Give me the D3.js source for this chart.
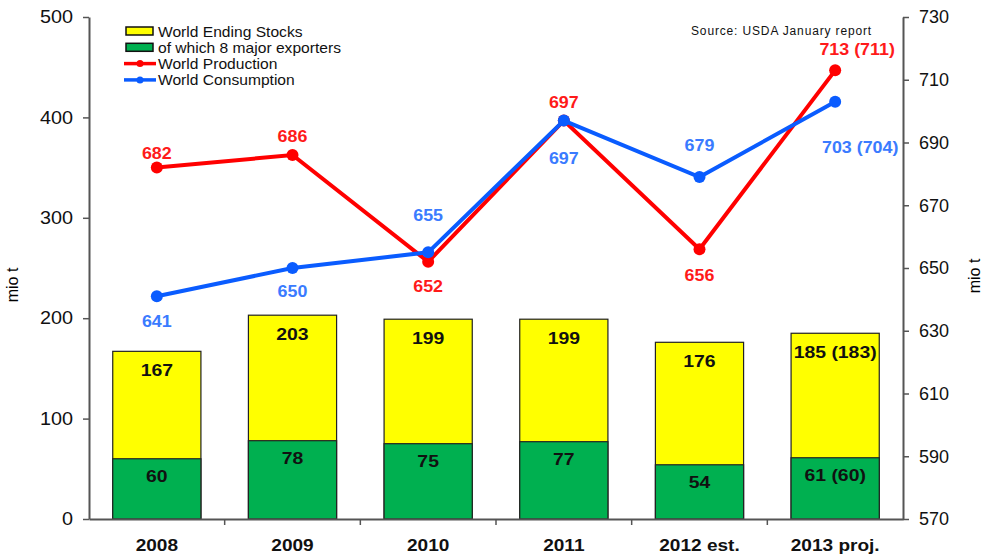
<!DOCTYPE html>
<html>
<head>
<meta charset="utf-8">
<script src="https://cdn.jsdelivr.net/npm/d3@7"></script>
<style>
  body { margin: 0; background: #fff; }
  text { font-family: "Liberation Sans", Arial, sans-serif; }
</style>
</head>
<body>
<div class="chart"></div>
<script>
// data
const years = ['2008', '2009', '2010', '2011', '2012 est.', '2013 proj.'];
const stocks = [167, 203, 199, 199, 176, 185];
const exporters = [60, 78, 75, 77, 54, 61];
const stockLabels = ['167', '203', '199', '199', '176', '185 (183)'];
const exporterLabels = ['60', '78', '75', '77', '54', '61 (60)'];
const production = [682, 686, 652, 697, 656, 713];
const consumption = [641, 650, 655, 697, 679, 703];
const prodLabels = ['682', '686', '652', '697', '656', '713 (711)'];
const consLabels = ['641', '650', '655', '697', '679', '703 (704)'];
const leftTicks = [0, 100, 200, 300, 400, 500];
const rightTicks = [570, 590, 610, 630, 650, 670, 690, 710, 730];

// label offsets (dx, dy from the point)
const prodOff = [[0,-9],[0,-13],[0,30],[0,-13],[0,32],[22,-15]];
const consOff = [[0,31],[0,29],[0,-31],[0,43],[0,-26],[25,51]];

const W = 983, H = 554;
const margin = {top:17, left:89, bottom:35, right:80};
const width = W - margin.left - margin.right;
const height = H - margin.top - margin.bottom;

// widen text a little, the original is horizontally stretched
const stretch = (sel, k) => sel.each(function() {
  const l = this.getComputedTextLength();
  d3.select(this).attr('textLength', l*k).attr('lengthAdjust', 'spacingAndGlyphs');
});

const svg = d3.select('.chart').append('svg')
  .attr('width', W)
  .attr('height', H)
  .append('g')
  .attr('transform', 'translate('+margin.left+','+margin.top+')');

const x = d3.scaleBand().domain(years).range([0, width]).paddingInner(0.35).paddingOuter(0.175);
const xc = d => x(d) + x.bandwidth()/2;
const yL = d3.scaleLinear().domain([0, 500]).range([height, 0]);
const yR = d3.scaleLinear().domain([570, 730]).range([height, 0]);

// bars
svg.selectAll('.stock')
  .data(years)
  .enter()
  .append('rect')
  .attr('x', d => x(d))
  .attr('width', x.bandwidth())
  .attr('y', (d,i) => yL(stocks[i]))
  .attr('height', (d,i) => yL(0) - yL(stocks[i]))
  .attr('fill', '#ffff00')
  .attr('stroke', '#222')
  .attr('stroke-width', 1.2);

svg.selectAll('.exp')
  .data(years)
  .enter()
  .append('rect')
  .attr('x', d => x(d))
  .attr('width', x.bandwidth())
  .attr('y', (d,i) => yL(exporters[i]))
  .attr('height', (d,i) => yL(0) - yL(exporters[i]))
  .attr('fill', '#00b050')
  .attr('stroke', '#222')
  .attr('stroke-width', 1.2);

svg.selectAll('.stockLbl')
  .data(years)
  .enter()
  .append('text')
  .attr('x', d => xc(d))
  .attr('y', (d,i) => yL(stocks[i]) + 25)
  .attr('text-anchor', 'middle')
  .attr('font-size', 17)
  .attr('font-weight', 'bold')
  .attr('fill', '#111')
  .text((d,i) => stockLabels[i])
  .call(stretch, 1.14);

svg.selectAll('.expLbl')
  .data(years)
  .enter()
  .append('text')
  .attr('x', d => xc(d))
  .attr('y', (d,i) => yL(exporters[i]) + 23)
  .attr('text-anchor', 'middle')
  .attr('font-size', 17)
  .attr('font-weight', 'bold')
  .attr('fill', '#111')
  .text((d,i) => exporterLabels[i])
  .call(stretch, 1.14);

// axes
const axisColor = '#555';
const styleAxis = g => {
  g.selectAll('path').attr('stroke', axisColor).attr('stroke-width', 2);
  g.selectAll('line').attr('stroke', axisColor).attr('stroke-width', 1.5);
  g.selectAll('text').attr('font-size', 18).attr('fill', '#111');
};

svg.append('g')
  .call(d3.axisLeft(yL).tickValues(leftTicks).tickSize(6).tickSizeOuter(0).tickPadding(10))
  .call(styleAxis)
  .selectAll('text').call(stretch, 1.1);

svg.append('g')
  .attr('transform', `translate(${width},0)`)
  .call(d3.axisRight(yR).tickValues(rightTicks).tickSize(6).tickSizeOuter(0).tickPadding(10))
  .call(styleAxis);

const xAxis = svg.append('g')
  .attr('transform', `translate(0,${height})`)
  .call(d3.axisBottom(x).tickSize(0).tickPadding(20))
  .call(styleAxis);
xAxis.selectAll('text').attr('font-size', 17).attr('font-weight', 'bold').call(stretch, 1.12);

// category separator ticks
svg.selectAll('.sep')
  .data(years.slice(1))
  .enter()
  .append('line')
  .attr('x1', d => x(d) - x.step()*x.paddingInner()/2)
  .attr('x2', d => x(d) - x.step()*x.paddingInner()/2)
  .attr('y1', height)
  .attr('y2', height + 6)
  .attr('stroke', axisColor)
  .attr('stroke-width', 1.5);

// lines
const drawLine = (vals, color, labels, off, lblColor) => {
  const line = d3.line().x((d,i) => xc(years[i])).y(d => yR(d));
  svg.append('path')
    .datum(vals)
    .attr('d', line)
    .attr('fill', 'none')
    .attr('stroke', color)
    .attr('stroke-width', 4);
  svg.selectAll(null)
    .data(vals)
    .enter()
    .append('circle')
    .attr('cx', (d,i) => xc(years[i]))
    .attr('cy', d => yR(d))
    .attr('r', 6)
    .attr('fill', color);
  svg.selectAll(null)
    .data(vals)
    .enter()
    .append('text')
    .attr('x', (d,i) => xc(years[i]) + off[i][0])
    .attr('y', (d,i) => yR(d) + off[i][1])
    .attr('text-anchor', 'middle')
    .attr('font-size', 17)
    .attr('font-weight', 'bold')
    .attr('fill', lblColor)
    .text((d,i) => labels[i])
    .call(stretch, 1.05);
};
drawLine(production, '#ff0000', prodLabels, prodOff, '#ff1a1a');
drawLine(consumption, '#0a5cff', consLabels, consOff, '#3a7bff');

// axis titles
svg.append('text')
  .attr('transform', `translate(${-71},${height/2 + 17}) rotate(-90)`)
  .attr('text-anchor', 'middle')
  .attr('font-size', 16)
  .text('mio t');
svg.append('text')
  .attr('transform', `translate(${width + 77},${height/2 + 8}) rotate(-90)`)
  .attr('text-anchor', 'middle')
  .attr('font-size', 16)
  .text('mio t');

// source
svg.append('text')
  .attr('x', 602)
  .attr('y', 18)
  .attr('font-size', 12)
  .attr('letter-spacing', 0.85)
  .attr('fill', '#111')
  .text('Source: USDA January  report');

// legend
const legendItems = ['World Ending Stocks', 'of which 8 major exporters', 'World Production', 'World Consumption'];
const legend = svg.append('g').attr('transform', 'translate(37,14)');
legendItems.forEach((t, i) => {
  const g = legend.append('g').attr('transform', `translate(0,${i*16.3})`);
  if (i < 2) {
    g.append('rect').attr('x', 0).attr('y', -4).attr('width', 27).attr('height', 8)
      .attr('fill', i === 0 ? '#ffff00' : '#00b050').attr('stroke', '#111').attr('stroke-width', 1.5);
  } else {
    const c = i === 2 ? '#ff0000' : '#0a5cff';
    g.append('line').attr('x1', -2).attr('x2', 30).attr('y1', 0).attr('y2', 0)
      .attr('stroke', c).attr('stroke-width', 3.5);
    g.append('circle').attr('cx', 14).attr('cy', 0).attr('r', 3.5).attr('fill', c);
  }
  g.append('text').attr('x', 32).attr('y', 5.5).attr('font-size', 15).attr('fill', '#111')
    .text(t).call(stretch, 1.04);
});
</script>
</body>
</html>
